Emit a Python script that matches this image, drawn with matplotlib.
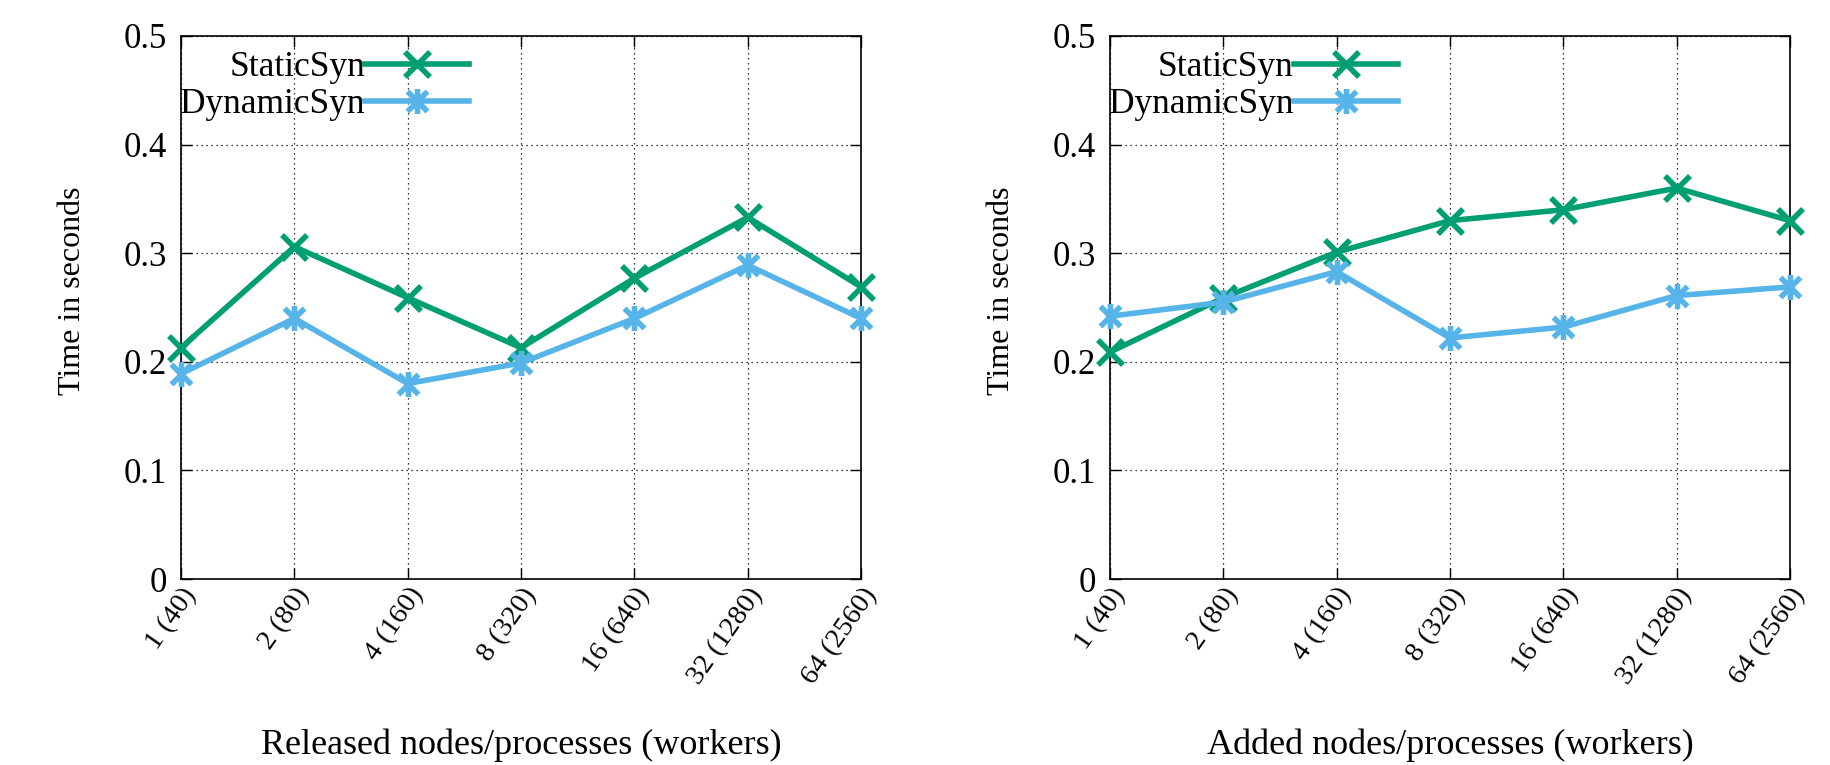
import matplotlib
matplotlib.use("Agg")
import matplotlib.pyplot as plt
from matplotlib.path import Path
from matplotlib.ticker import FuncFormatter, MultipleLocator

categories = ["1 (40)", "2 (80)", "4 (160)", "8 (320)", "16 (640)", "32 (1280)", "64 (2560)"]
released_static = [0.213, 0.306, 0.259, 0.213, 0.277, 0.333, 0.269]
released_dynamic = [0.189, 0.240, 0.180, 0.199, 0.240, 0.289, 0.240]
added_static = [0.209, 0.259, 0.301, 0.330, 0.340, 0.360, 0.330]
added_dynamic = [0.242, 0.255, 0.283, 0.222, 0.232, 0.261, 0.269]
xlabels = ["Released nodes/processes (workers)", "Added nodes/processes (workers)"]
ylabel = "Time in seconds"
series_names = ["StaticSyn", "DynamicSyn"]

GREEN = "#009e73"
BLUE = "#56b4e9"

plt.rcParams["font.family"] = ["Liberation Serif", "DejaVu Serif"]

star = Path([(-1, -1), (1, 1), (-1, 1), (1, -1), (0, -1.25), (0, 1.25)],
            [Path.MOVETO, Path.LINETO, Path.MOVETO, Path.LINETO, Path.MOVETO, Path.LINETO])

FS = 25
fig = plt.figure(figsize=(18.31, 7.65), dpi=100)
positions = [[0.0989, 0.243, 0.3714, 0.710], [0.6062, 0.243, 0.3714, 0.710]]
data = [(released_static, released_dynamic), (added_static, added_dynamic)]

for pos, (s, d), xl in zip(positions, data, xlabels):
    ax = fig.add_axes(pos)
    x = list(range(len(categories)))
    ax.plot(x, s, color=GREEN, lw=4, marker="x", ms=18, mew=4, label=series_names[0], clip_on=False, zorder=3)
    ax.plot(x, d, color=BLUE, lw=4, marker=star, ms=18, mew=4, mfc="none", label=series_names[1], clip_on=False, zorder=3)
    ax.set_xlim(0, len(categories) - 1)
    ax.set_ylim(0, 0.5)
    ax.yaxis.set_major_locator(MultipleLocator(0.1))
    ax.yaxis.set_major_formatter(FuncFormatter(lambda v, p: "0" if abs(v) < 1e-9 else f"{v:.1f}"))
    ax.set_xticks(x)
    ax.set_xticklabels(categories, rotation=55, ha="right", va="top", rotation_mode="anchor", fontsize=20.5)
    ax.tick_params(direction="in", length=8, width=1, top=True, right=True, pad=10)
    ax.tick_params(axis="y", labelsize=FS)
    ax.tick_params(axis="x", pad=3)
    ax.grid(True, color="black", linestyle=(0, (1, 3)), lw=0.9)
    for sp in ax.spines.values():
        sp.set_linewidth(1.2)
    ax.set_ylabel(ylabel, fontsize=23, va="center")
    ax.yaxis.set_label_coords(-0.160, 0.53)
    ax.set_xlabel(xl, fontsize=26, va="center")
    ax.xaxis.set_label_coords(0.5, -0.306)
    ax.legend(loc="upper right", bbox_to_anchor=(0.424, 0.972), frameon=False, markerfirst=False,
              fontsize=25.5, handlelength=2.95, handletextpad=0.0, labelspacing=0.12, borderpad=0.0,
              borderaxespad=0.0)

fig.savefig("out.png", dpi=100)
